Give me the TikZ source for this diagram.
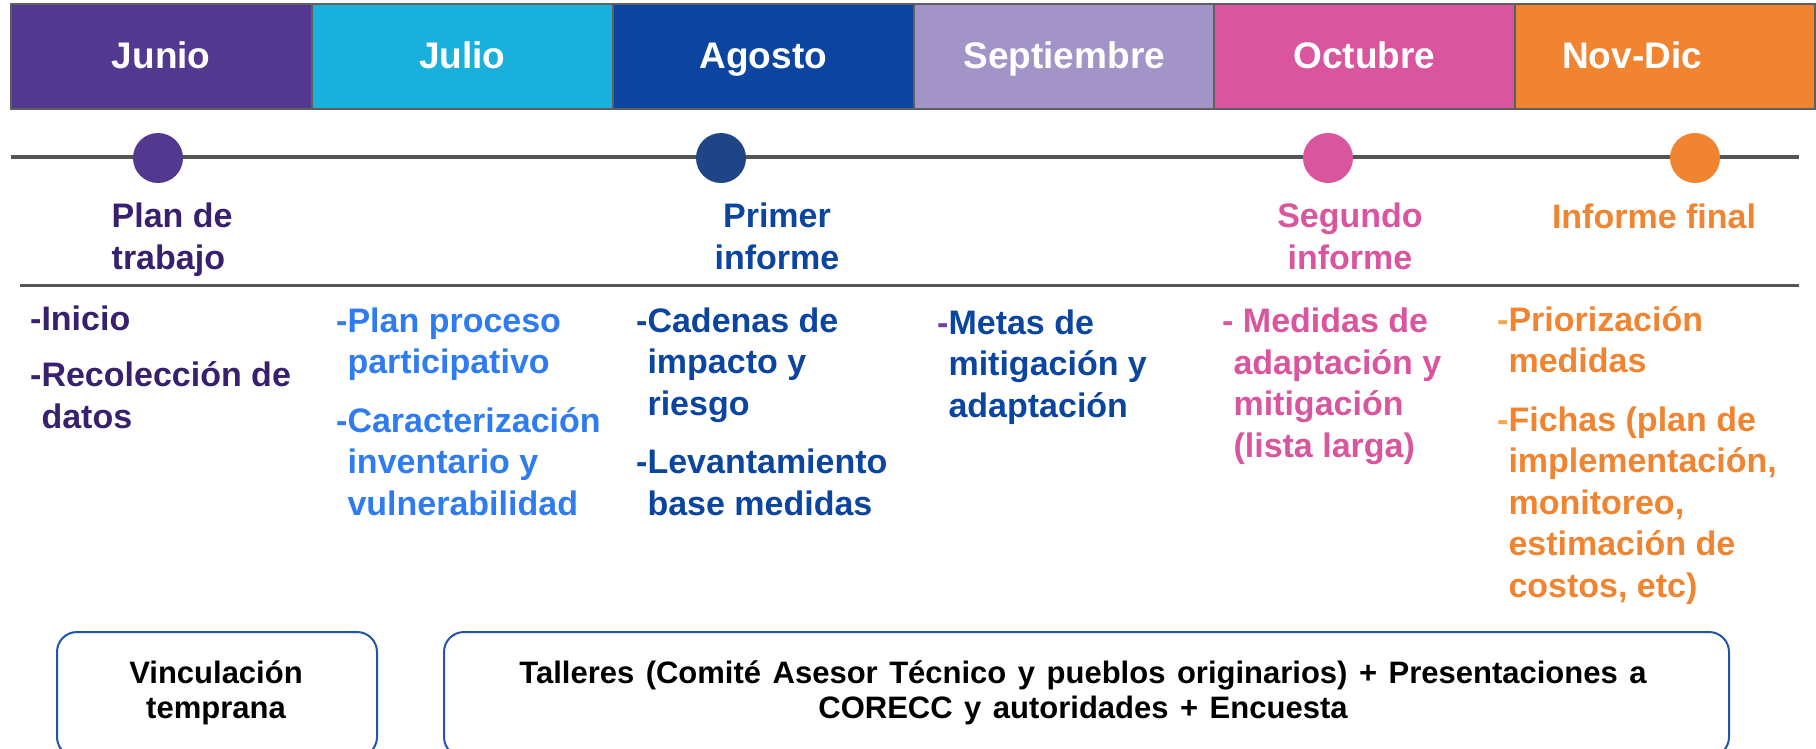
\documentclass[tikz,border=0pt]{standalone}
\usepackage{fontspec}
\setmainfont{Liberation Sans}
\definecolor{cjun}{HTML}{53388F}
\definecolor{cjul}{HTML}{1AB0DC}
\definecolor{cago}{HTML}{0B45A0}
\definecolor{csep}{HTML}{A294C6}
\definecolor{coct}{HTML}{D9559E}
\definecolor{cnov}{HTML}{F08430}
\definecolor{cagocirc}{HTML}{1F4587}
\definecolor{tjun}{HTML}{38206F}
\definecolor{tjul}{HTML}{2F7CF0}
\definecolor{dashpurple}{HTML}{7040A0}
\definecolor{dashorange}{HTML}{F5A64A}
\definecolor{hdrgray}{HTML}{5F5F5F}
\definecolor{linegray}{HTML}{555555}
\definecolor{boxblue}{HTML}{2255AA}
\newcommand\hdrfont{\bfseries\fontsize{37}{44}\selectfont}
\newcommand\bodyfont{\bfseries\fontsize{34}{41.5}\selectfont}
\newcommand\boxfont{\bfseries\fontsize{31}{35}\selectfont}
\newcommand\hang{\hphantom{-}}
\newcommand\widesp{\spaceskip=11.5pt\relax}
\begin{document}
\begin{tikzpicture}[x=1pt,y=-1pt,
  month/.style={draw=hdrgray, line width=1.5pt, fill=#1, anchor=north west,
    minimum width=301pt, minimum height=105pt, inner sep=0pt,
    text=white, font=\hdrfont, text height=30pt, text depth=5pt},
  hdrtext/.style={text=white, font=\hdrfont, anchor=base, inner sep=0pt},
  milestone/.style={circle, fill=#1, minimum size=50pt, inner sep=0pt},
  tline/.style={draw=linegray, line width=3.3pt},
  mlabel/.style={font=\bodyfont, text=#1, inner sep=0pt},
  body/.style={font=\bodyfont, text=#1, align=left, anchor=base west, inner sep=0pt},
  bbox/.style={draw=boxblue, line width=2pt, rounded corners=20pt},
  btext/.style={font=\boxfont, align=center, anchor=base, inner sep=0pt}]
\useasboundingbox (0,0) rectangle (1816,748);
\clip (0,0) rectangle (1816,748);
% header
\node[month=cjun] (hjun) at (10,3) {Junio};
\node[month=cjul] (hjul) at (311,3) {Julio};
\node[month=cago] (hago) at (612,3) {Agosto};
\node[month=csep] (hsep) at (913,3) {Septiembre};
\node[month=coct] (hoct) at (1213,3) {Octubre};
\node[month=cnov, minimum width=300pt] (hnov) at (1514,3) {};
\node[hdrtext] (tnov) at (1632,68) {Nov-Dic};
% timeline
\coordinate (l1a) at (11,157);
\coordinate (l1b) at (1799,157);
\coordinate (l2a) at (20,285);
\coordinate (l2b) at (1799,285);
\draw[tline] (l1a) -- (l1b);
\draw[tline, line width=3pt] (l2a) -- (l2b);
\node[milestone=cjun] (m1) at (158,158) {};
\node[milestone=cagocirc] (m2) at (721,158) {};
\node[milestone=coct] (m3) at (1328,158) {};
\node[milestone=cnov] (m4) at (1695,158) {};
% milestone labels (anchor = baseline of last line)
\node[mlabel=tjun, align=left, anchor=base west] (p1) at (111.5,269) {Plan de\\trabajo};
\node[mlabel=cago, align=center, anchor=base] (p2) at (777,269) {Primer\\informe};
\node[mlabel=coct, align=center, anchor=base] (p3) at (1350,269) {Segundo\\informe};
\node[mlabel=cnov, anchor=base] (p4) at (1654,228) {Informe final};
% body texts (anchor = baseline of last line)
\node[body=tjun] (b1) at (30,428) {-Inicio\\[15pt]-Recolección de\\\hang datos};
\node[body=tjul] (b2) at (336,515) {-Plan proceso\\\hang participativo\\[17pt]-Caracterización\\\hang inventario y\\\hang vulnerabilidad};
\node[body=cago] (b3) at (636,515) {-Cadenas de\\\hang impacto y\\\hang riesgo\\[17pt]-Levantamiento\\\hang base medidas};
\node[body=cago] (b4) at (937,417) {\textcolor{dashpurple}{-}Metas de\\\hang mitigación y\\\hang adaptación};
\node[body=coct] (b5) at (1222,457) {- Medidas de\\\hang adaptación y\\\hang mitigación\\\hang (lista larga)};
\node[body=cnov] (b6) at (1497,597) {\textcolor{dashorange}{-}Priorización\\\hang medidas\\[17pt]\textcolor{dashorange}{-}Fichas (plan de\\\hang implementación,\\\hang monitoreo,\\\hang estimación de\\\hang costos, etc)};
% bottom boxes
\node[bbox, anchor=north west, minimum width=320pt, minimum height=125pt, inner sep=0pt] (k1) at (56,631) {};
\node[bbox, anchor=north west, minimum width=1285pt, minimum height=125pt, inner sep=0pt] (k2) at (443,631) {};
\node[btext] (t1) at (216,718) {Vinculación\\temprana};
\node[btext] (t2) at (1083,718) {\widesp Talleres (Comité Asesor Técnico y pueblos originarios) + Presentaciones a\\\widesp CORECC y autoridades + Encuesta};
\end{tikzpicture}
\end{document}
